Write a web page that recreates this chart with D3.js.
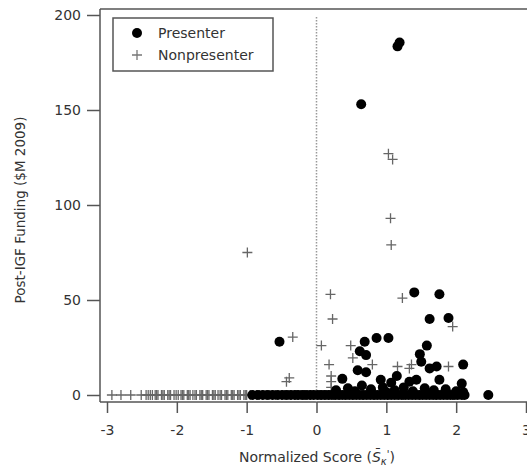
<!DOCTYPE html>
<html lang="en">
<head>
<meta charset="UTF-8">
<script src="https://d3js.org/d3.v7.min.js"></script>
<style>
  body { margin: 0; background: #fff; }
  svg text { font-family: "DejaVu Sans", sans-serif; fill: #333; }
</style>
</head>
<body>
<div id="here"></div>
<script>
// presenters above the baseline (score, funding $M)
const presenterScore = [1.16, 1.19, 0.64, 1.40, 1.76, 1.62, 1.89, 0.69, 0.86, 1.03, -0.53, 1.58,
  0.62, 0.71, 1.48, 1.50, 1.62, 1.72, 2.10, 0.59, 0.71, 0.37, 0.92, 1.15, 1.07, 1.43, 1.33, 1.76, 2.08, 2.46,
  0.28, 0.45, 0.55, 0.78, 0.95, 1.12, 1.25, 1.38, 1.55, 1.68, 1.85, 2.00, 2.10, 0.65, 1.00];
const presenterFunding = [183.5, 185.5, 153, 54, 53, 40, 40.5, 28, 30, 30, 28, 26,
  23, 21, 21.5, 17.5, 14, 15, 16, 13, 12, 8.5, 8, 10, 6.5, 8, 7, 8, 6, 0,
  2.5, 3.5, 2, 3, 4, 2.5, 4, 2, 3.5, 2.5, 3, 2, 1.5, 5, 1.5];
// presenters at zero funding
const presenterZeroScore = [-0.92, -0.84, -0.77, -0.70, -0.63, -0.56, -0.49,
  -0.43, -0.37, -0.31, -0.26, -0.20, -0.15, -0.09, -0.04, 0.02, 0.07, 0.12, 0.17, 0.22, 0.27, 0.32, 0.37,
  0.42, 0.47, 0.52, 0.57, 0.62, 0.67, 0.72, 0.77, 0.82, 0.87, 0.92, 0.97, 1.02, 1.07, 1.12, 1.17, 1.22,
  1.27, 1.32, 1.37, 1.42, 1.47, 1.52, 1.57, 1.62, 1.67, 1.72, 1.77, 1.82, 1.87, 1.92, 1.97, 2.02, 2.08, 2.12];

// nonpresenters above the baseline
const nonpresenterScore = [1.03, 1.09, 1.06, 1.07, 0.20, 1.23, -0.99, -0.34, -0.39, -0.43, 0.07, 0.18,
  0.23, 1.95, 0.49, 0.52, 0.80, 1.16, 1.33, 1.36, 1.89, 0.21, 0.21, 0.21];
const nonpresenterFunding = [127, 124, 93, 79, 53, 51, 75, 30.5, 9, 7, 26, 16,
  40, 36, 26, 19.5, 16, 15, 14, 16, 15, 7, 10, 4];
// nonpresenters at zero funding
const nonpresenterZeroScore = [-2.93, -2.80, -2.66, -2.51, -2.44, -2.41, -2.38, -2.35, -2.31, -2.29, -2.27,
  -2.22, -2.20, -2.18, -2.13, -2.11, -2.09, -2.04, -2.01, -1.98, -1.94, -1.92, -1.90, -1.85, -1.83, -1.81,
  -1.77, -1.74, -1.72, -1.67, -1.65, -1.63, -1.58, -1.56, -1.54, -1.49, -1.47, -1.45, -1.41, -1.38, -1.36,
  -1.31, -1.29, -1.27, -1.22, -1.20, -1.18, -1.13, -1.11, -1.09, -1.04, -1.02, -1.00, -0.95, -0.91, -0.86,
  -0.82, -0.77, -0.72, -0.68, -0.63, -0.59, -0.54, -0.50, -0.45, -0.41, -0.36, -0.31, -0.27, -0.22, -0.18,
  -0.13, -0.09, -0.04, 0.01, 0.06, 0.12, 0.18, 0.25, 0.33, 0.41, 0.52, 0.66, 0.83, 1.02, 1.24, 1.48, 1.71, 1.95];

const xTicks = [-3, -2, -1, 0, 1, 2, 3];
const yTicks = [0, 50, 100, 150, 200];

const W = 527, H = 470;
const frameLeft = 100, frameTop = 9, frameBottom = 402;

const x = d3.scaleLinear().domain([-3, 3]).range([107, 526]);
const y = d3.scaleLinear().domain([0, 200]).range([395, 15]);

const svg = d3.select("#here").append("svg")
  .attr("width", W).attr("height", H);

// frame
const frame = svg.append("g").attr("stroke", "#555").attr("stroke-width", 1.5).attr("fill", "none");
frame.append("line").attr("x1", frameLeft).attr("x2", frameLeft).attr("y1", frameTop).attr("y2", frameBottom);
frame.append("line").attr("x1", frameLeft).attr("x2", W + 5).attr("y1", frameTop).attr("y2", frameTop);
frame.append("line").attr("x1", frameLeft).attr("x2", W + 5).attr("y1", frameBottom).attr("y2", frameBottom);

// zero line
svg.append("line")
  .attr("x1", x(0)).attr("x2", x(0)).attr("y1", 17).attr("y2", frameBottom)
  .attr("stroke", "#999").attr("stroke-width", 1.5).attr("stroke-dasharray", "1.5,1.5");

// axes
const yAxis = svg.append("g")
  .attr("transform", `translate(${frameLeft},0)`)
  .call(d3.axisLeft(y).tickValues(yTicks).tickSize(13).tickPadding(6));
const xAxis = svg.append("g")
  .attr("transform", `translate(0,${frameBottom})`)
  .call(d3.axisBottom(x).tickValues(xTicks).tickSize(11).tickPadding(12).tickFormat(d3.format("d")));
[yAxis, xAxis].forEach(a => {
  a.select(".domain").remove();
  a.selectAll(".tick line").attr("stroke", "#555").attr("stroke-width", 1.5);
  a.selectAll(".tick text").attr("font-size", 14).attr("fill", "#444")
    .attr("font-family", "DejaVu Sans, sans-serif");
});
xAxis.selectAll(".tick text").text(d => d < 0 ? "-" + Math.abs(d) : d);

// nonpresenter crosses
const plusPath = "M-5,0H5M0,-5V5";
const nonpresenters = nonpresenterScore.map((s, i) => [s, nonpresenterFunding[i]])
  .concat(nonpresenterZeroScore.map(s => [s, 0]));
svg.append("g").selectAll("path").data(nonpresenters).join("path")
  .attr("d", plusPath)
  .attr("transform", d => `translate(${x(d[0])},${y(d[1])})`)
  .attr("stroke", "#666").attr("stroke-width", 1.3).attr("fill", "none");

// presenter dots
const presenters = presenterZeroScore.map(s => [s, 0])
  .concat(presenterScore.map((s, i) => [s, presenterFunding[i]]));
svg.append("g").selectAll("circle").data(presenters).join("circle")
  .attr("cx", d => x(d[0])).attr("cy", d => y(d[1]))
  .attr("r", 5).attr("fill", "#000");

// legend
const lg = svg.append("g");
lg.append("rect").attr("x", 113).attr("y", 18).attr("width", 160).attr("height", 53)
  .attr("fill", "#fff").attr("stroke", "#555").attr("stroke-width", 1.5);
lg.append("circle").attr("cx", 137).attr("cy", 33).attr("r", 5).attr("fill", "#000");
lg.append("path").attr("d", plusPath).attr("transform", "translate(137,55)")
  .attr("stroke", "#777").attr("stroke-width", 1.3);
lg.append("text").attr("x", 158).attr("y", 38).attr("font-size", 14).text("Presenter");
lg.append("text").attr("x", 158).attr("y", 60).attr("font-size", 14).text("Nonpresenter");

// axis titles
svg.append("text")
  .attr("transform", "translate(25,210) rotate(-90)")
  .attr("text-anchor", "middle").attr("font-size", 13.5)
  .text("Post-IGF Funding ($M 2009)");

const xt = svg.append("text")
  .attr("x", 317).attr("y", 462).attr("text-anchor", "middle").attr("font-size", 14);
xt.append("tspan").text("Normalized Score (");
xt.append("tspan").attr("font-style", "italic").text("S\u0304");
xt.append("tspan").attr("font-size", 10).attr("dy", 3).attr("font-style", "italic").text("\u03ba");
xt.append("tspan").attr("font-size", 10).attr("dy", -7).text("'");
xt.append("tspan").attr("dy", 4).text(")");
</script>
</body>
</html>
